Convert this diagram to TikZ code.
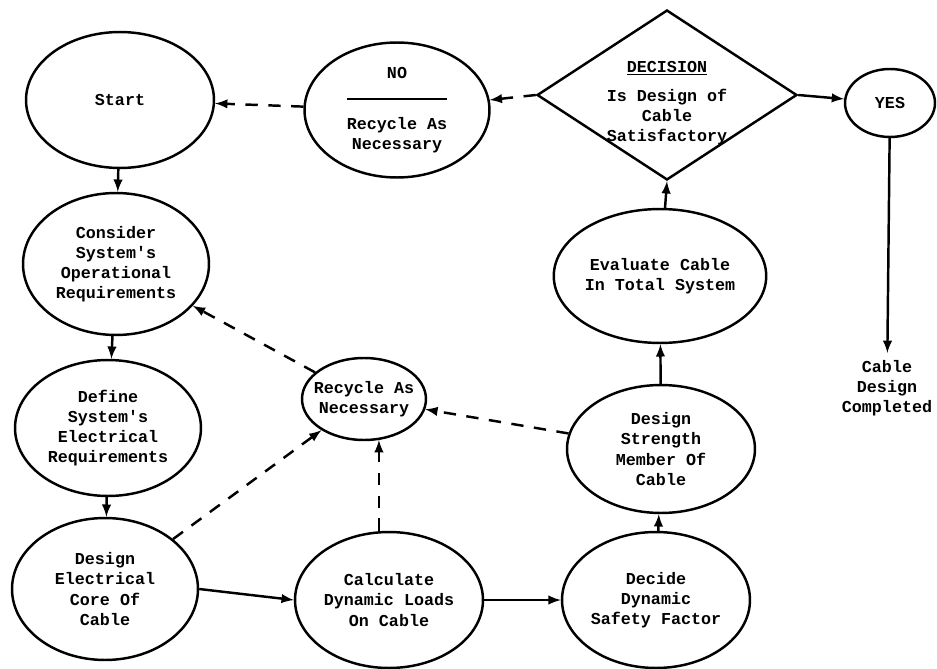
\documentclass[tikz,border=0pt]{standalone}
\usepackage{fontspec}
\setmonofont{Liberation Mono}
\usetikzlibrary{shapes.geometric,arrows}
\begin{document}
\begin{tikzpicture}[>=latex, x=0.02cm, y=-0.02cm, line width=1.4pt,
  every node/.style={font=\ttfamily\bfseries\fontsize{9.5}{11.5}\selectfont, align=center},
  oval/.style={draw, ellipse, inner sep=0pt},
  recyc/.style={->, dash pattern=on 7pt off 6pt}]
\useasboundingbox (0,0) rectangle (937,669);
\node[oval, minimum width=3.76cm, minimum height=2.72cm] (Start) at (120,100) {Start};
\node[oval, minimum width=3.72cm, minimum height=2.84cm] (Consider) at (116,264) {Consider\\System's\\Operational\\Requirements};
\node[oval, minimum width=3.72cm, minimum height=2.72cm] (Define) at (108,428) {Define\\System's\\Electrical\\Requirements};
\node[oval, minimum width=3.72cm, minimum height=2.84cm] (Electrical) at (105,589) {Design\\Electrical\\Core Of\\Cable};
\node[oval, minimum width=3.76cm, minimum height=2.72cm] (Calculate) at (389,600) {Calculate\\Dynamic Loads\\On Cable};
\node[oval, minimum width=3.76cm, minimum height=2.72cm] (Decide) at (656,600) {Decide\\Dynamic\\Safety Factor};
\node[oval, minimum width=3.76cm, minimum height=2.56cm] (Strength) at (661,449) {Design\\Strength\\Member Of\\Cable};
\node[oval, minimum width=3.6cm, minimum height=2.68cm] (Evaluate) at (660,276) {Evaluate Cable\\In Total System};
\node[oval, inner sep=-4pt, minimum width=2.48cm, minimum height=1.64cm] (Recycle) at (364,399) {Recycle As\\Necessary};
\node[draw, diamond, inner sep=0pt, minimum width=5.2cm, minimum height=3.4cm] (Decision) at (667,95) {};
\node (DecText) at (667,103) {\underline{DECISION}\\[5pt]Is Design of\\Cable\\Satisfactory};
\node[oval, minimum width=3.7cm, minimum height=2.7cm] (No) at (397,110) {NO\\[1pt]\rule{2cm}{1pt}\\[5pt]Recycle As\\Necessary};
\node[oval, minimum width=1.8cm, minimum height=1.36cm] (Yes) at (890,103) {YES};
\node (Done) at (887,388) {Cable\\Design\\Completed};
\draw[->] (Start) -- (Consider);
\draw[->] (Consider) -- (Define);
\draw[->] (Define) -- (Electrical);
\draw[->] (Electrical.east) -- (Calculate.west);
\draw[->] (Calculate) -- (Decide);
\draw[->] (Decide) -- (Strength);
\draw[->] (Strength) -- (Evaluate);
\draw[->] (Evaluate) -- (Decision.south);
\draw[->] (Decision.east) -- (Yes);
\draw[->] (Yes) -- (Done);
\draw[recyc] (Decision.west) -- (No);
\draw[recyc] (No) -- (Start);
\draw[recyc] (Recycle) -- (Consider);
\draw[recyc] (Electrical) -- (Recycle);
\draw[recyc] (Recycle.-70 |- Calculate.north) -- (Recycle.-70);
\draw[recyc] (Strength) -- (Recycle);
\end{tikzpicture}
\end{document}
